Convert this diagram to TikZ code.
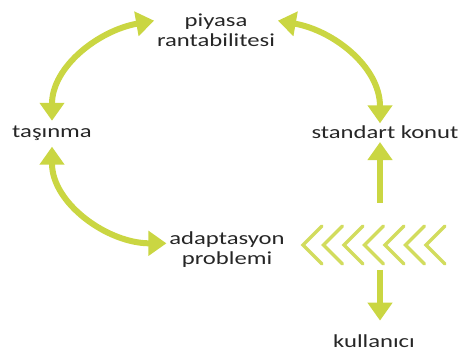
\documentclass[tikz,border=0pt]{standalone}
\usepackage{fontspec}
\setmainfont{Carlito}[FakeStretch=1.34]
\usetikzlibrary{arrows.meta,positioning}
\definecolor{lime}{RGB}{202,214,66}
\tikzset{
  lbl/.style={font=\fontsize{13.8pt}{15pt}\selectfont, text=black!85, inner sep=2pt},
  biarr/.style={draw=lime, line width=4.5pt, {Triangle[width=18pt,length=13.5pt]}-{Triangle[width=18pt,length=13.5pt]}},
  arr/.style={draw=lime, line width=4.5pt, -{Triangle[width=18pt,length=13.5pt]}},
  chev/.style={draw=lime!85, line width=2.6pt, line cap=round}
}
\begin{document}
\begin{tikzpicture}[x=0.75pt,y=0.75pt]
\useasboundingbox (0,0) rectangle (459,356);
\node[lbl,align=center] (piyasa) at (216,326) {piyasa\\rantabilitesi};
\node[lbl,anchor=base] (tasinma) at (52,218) {taşınma};
\node[lbl,anchor=base] (konut) at (385,217) {standart konut};
\node[lbl,align=center] (adapt) at (227,106) {adaptasyon\\problemi};
\node[lbl,anchor=base] (kullanici) at (374,9) {kullanıcı};
\coordinate (upfoot) at (380,153);
\coordinate (downfoot) at (380,86);
% cycle
\draw[biarr,shorten <=2pt] (tasinma.north) to[out=90,in=190] ([yshift=7]piyasa.west);
\draw[biarr] ([yshift=7]piyasa.east) to[out=-10,in=90] (konut.north -| upfoot);
\draw[biarr,shorten <=2pt] (tasinma.south) to[out=-90,in=180] ([yshift=5]adapt.west);
% chevrons
\foreach \i in {0,...,6} \draw[chev] (322+20.5*\i,130) -- (303+20.5*\i,111) -- (322+20.5*\i,92);
\draw[arr] (upfoot) -- (konut.south -| upfoot);
\draw[arr] (downfoot) -- ([yshift=8]kullanici.north -| downfoot);
\end{tikzpicture}
\end{document}
